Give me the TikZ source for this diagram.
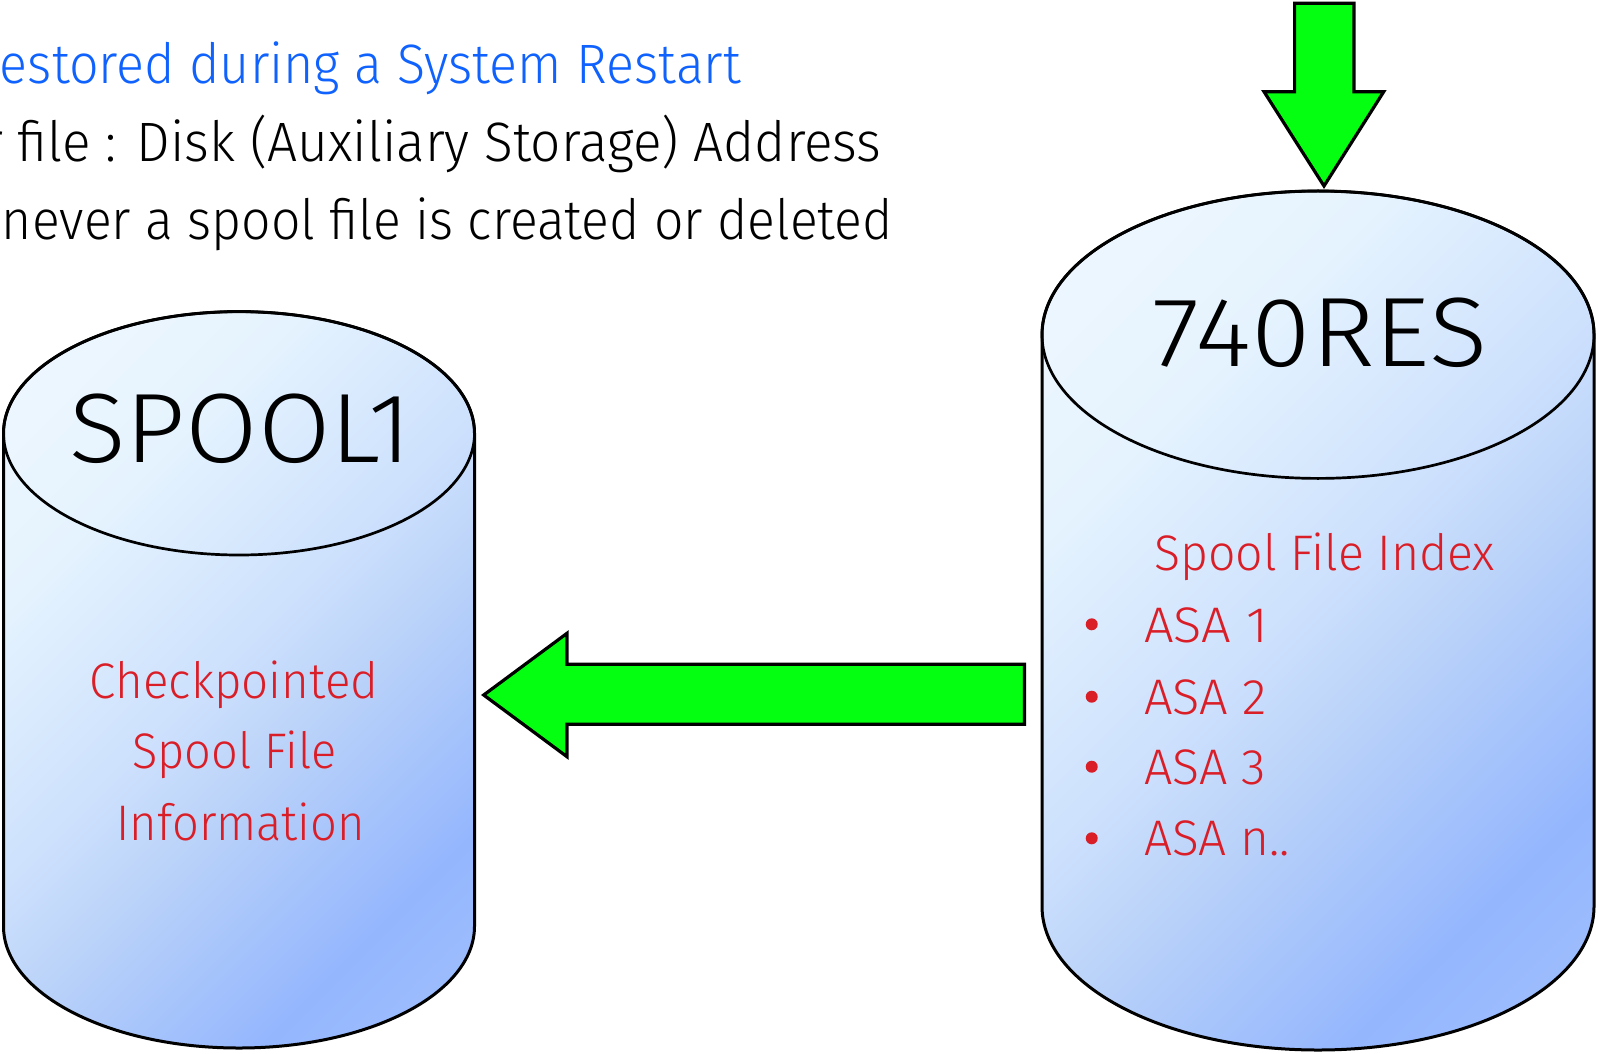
\documentclass[tikz,border=0pt]{standalone}
\usepackage{fontspec}
\usepackage{graphicx}
\IfFontExistsTF{Fira Sans Light}{\setmainfont{Fira Sans Light}}{%
  \IfFontExistsTF{FiraSans-Light.otf}{\setmainfont{FiraSans-Light.otf}}{\setmainfont{Fira Sans}}}

\definecolor{ibmblue}{HTML}{0F62FE}
\definecolor{ibmred}{HTML}{DA1E28}
\definecolor{arrowgreen}{HTML}{04FF10}
\definecolor{dA}{HTML}{F0F8FF}
\definecolor{dB}{HTML}{E5F3FE}
\definecolor{dC}{HTML}{CCE0FD}
\definecolor{dD}{HTML}{BCD4F9}
\definecolor{dE}{HTML}{94B6FD}
\definecolor{dF}{HTML}{A2C1FC}

% light-to-blue diagonal fill of the disk drums
\pgfdeclarehorizontalshading{drumshade}{100bp}{color(0bp)=(dA); color(15bp)=(dA);
  color(32bp)=(dB); color(49bp)=(dC); color(56bp)=(dD); color(73bp)=(dE);
  color(86bp)=(dF); color(100bp)=(dF)}

% one drawing unit = 0.5pt
\newdimen\pxu \pxu=0.5pt
\newcommand\fitpx[2]{\resizebox{#1\pxu}{\height}{#2}}

% horizontal scale of the heading lines
\newlength\refw
\settowidth\refw{\fontsize{27.75}{30}\selectfont Disk (Auxiliary Storage) Address}
\pgfmathsetmacro\topsx{372.4/\refw}

% disk drum: centre x, x radius, top ellipse y, bottom ellipse y, y radius
\newcommand\drawdrum[5]{%
  \shadedraw[shading=drumshade, shading angle=-45, draw=black, line width=1.5pt, line join=round]
    ({#1-#2},#3) -- ({#1-#2},#4)
    arc[start angle=180, end angle=0, x radius=#2, y radius=#5]
    -- ({#1+#2},#3)
    arc[start angle=0, end angle=-180, x radius=#2, y radius=#5] -- cycle;
  \draw[line width=1.35pt] (#1,#3) ellipse[x radius=#2, y radius=#5];
}

\begin{document}
\begin{tikzpicture}[x=0.5pt, y=-0.5pt,
  txt/.style={inner sep=0pt, outer sep=0pt, anchor=base west},
  toptext/.style={txt, font=\fontsize{27.75}{30}\selectfont},
  drumlabel/.style={txt, text=black, font=\fontsize{49.3}{52}\selectfont},
  redtext/.style={txt, text=ibmred, font=\fontsize{25}{28}\selectfont},
  bullet/.style={circle, fill=ibmred, inner sep=0pt, minimum size=6pt},
  blockarrow/.style={draw=black, fill=arrowgreen, line width=1.6pt, line join=miter}]

\path[use as bounding box, fill=white] (0,0) rectangle (1598,1053);
\clip (0,0) rectangle (1598,1053);

% heading lines
\node[toptext, text=ibmblue] (line1) at (0,83.3) {\fitpx{741}{estored during a System Restart}};
\node[toptext, anchor=base east] (line2) at (881.5,161.7) {\scalebox{\topsx}[1]{r file : Disk (Auxiliary Storage) Address}};
\node[toptext] (line3) at (2,240) {\fitpx{890.7}{never a spool file is created or deleted}};

% the two disk units
\drawdrum{239}{235.5}{433.3}{926.3}{121.7}
\coordinate (spooldrum) at (239,680);
\drawdrum{1318}{276}{334.7}{906.3}{143.7}
\coordinate (resdrum) at (1318,620);

\node[drumlabel] (spool1) at (69.3,462.7) {\fitpx{342.4}{SPOOL1}};
\node[drumlabel] (res740) at (1152.7,366.7) {\fitpx{334.6}{740RES}};

\node[redtext] (chk1) at (90,698.3) {\fitpx{288.3}{Checkpointed}};
\node[redtext] (chk2) at (132.3,768.3) {\fitpx{204.4}{Spool File}};
\node[redtext] (chk3) at (116.7,840) {\fitpx{248.3}{Information}};

\node[redtext] (index) at (1154,570.7) {\fitpx{341}{Spool File Index}};
\node[redtext] (asa1) at (1144.3,642.3) {\fitpx{123.4}{ASA 1}};
\node[redtext] (asa2) at (1144.3,714) {\fitpx{122.4}{ASA 2}};
\node[redtext] (asa3) at (1144.3,784) {\fitpx{121.7}{ASA 3}};
\node[redtext] (asan) at (1144.3,855.7) {\fitpx{145.7}{ASA n..}};
\node[bullet] (b1) at (1091.7,624.3) {};
\node[bullet] (b2) at (1091.7,696.7) {};
\node[bullet] (b3) at (1091.7,766.7) {};
\node[bullet] (b4) at (1091.7,838.3) {};

% block arrows
\draw[blockarrow] (1294.6,3.3) -- (1353.9,3.3) -- (1353.9,91.7) -- (1383.7,91.7)
  -- (1324,186) -- (1264,91.7) -- (1294.6,91.7) -- cycle;
\draw[blockarrow] (1024.5,664.3) -- (1024.5,724.3) -- (567,724.3) -- (567,756.7)
  -- (483.7,695) -- (567,633.3) -- (567,664.3) -- cycle;

\end{tikzpicture}
\end{document}
